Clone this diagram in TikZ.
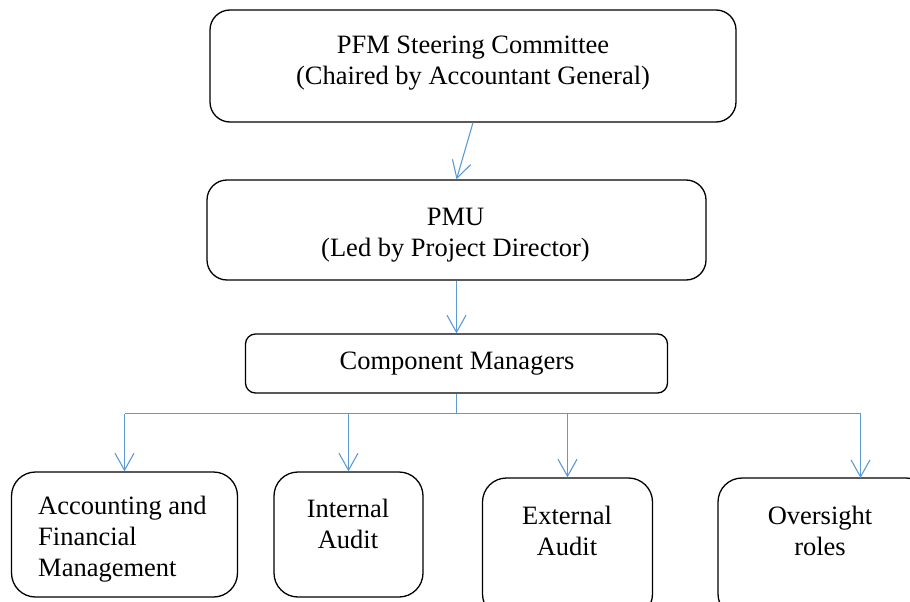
\documentclass[tikz,border=0pt]{standalone}
\usepackage{fontspec}
\setmainfont{Liberation Serif}
\usetikzlibrary{arrows.meta}
\begin{document}
\begin{tikzpicture}[x=1pt,y=-1pt,
  box/.style={draw=black, line width=1.3pt, rounded corners=#1, inner sep=0pt},
  txt/.style={font=\fontsize{26.5}{31}\selectfont, inner sep=0pt, align=center},
  link/.style={draw={rgb,255:red,91;green,155;blue,213}, line width=1.1pt},
  arr/.style={link, -{Straight Barb[length=17pt, width=19pt, line width=1.1pt]}}
]
\useasboundingbox (0,0) rectangle (910,602);
\clip (0,0) rectangle (910,602);

% boxes
\node[box=20pt, minimum width=526pt, minimum height=112pt] (top) at (473,66) {};
\node[box=20pt, minimum width=499pt, minimum height=100pt] (pmu) at (456.5,230) {};
\node[box=10pt, minimum width=422pt, minimum height=59pt] (cm) at (456.5,363.5) {};
\node[box=24pt, minimum width=226pt, minimum height=125pt] (b1) at (124.5,534.5) {};
\node[box=24pt, minimum width=149pt, minimum height=125pt] (b2) at (348.5,534.5) {};
\node[box=24pt, minimum width=170pt, minimum height=140pt] (b3) at (567.5,548) {};
\node[box=24pt, minimum width=212pt, minimum height=140pt] (b4) at (824,548) {};

% labels
\node[txt] (topt) at (473,63) {PFM Steering Committee\\(Chaired by Accountant General)};
\node[txt] (pmut) at (455.5,235) {PMU\\(Led by Project Director)};
\node[txt] (cmt) at (457,364) {Component Managers};
\node[txt, align=left, anchor=west] (b1t) at (38,539) {Accounting and\\Financial\\Management};
\node[txt] (b2t) at (348,524) {Internal\\Audit};
\node[txt] (b3t) at (567,530.5) {External\\Audit};
\node[txt] (b4t) at (820,530.5) {Oversight\\roles};

% connectors
\coordinate (bus) at (456.5,413.5);
\coordinate (b4in) at (860.5,478);
\draw[arr] (top.south) -- (pmu.north);
\draw[arr] (pmu.south) -- (cm.north);
\draw[link] (cm.south) -- (bus);
\draw[link] (bus -| b1.north) -- (bus -| b4in);
\draw[arr] (bus -| b1.north) -- (b1.north);
\draw[arr] (bus -| b2.north) -- (b2.north);
\draw[arr] (bus -| b3.north) -- (b3.north);
\draw[arr] (bus -| b4in) -- (b4in);
\end{tikzpicture}
\end{document}
